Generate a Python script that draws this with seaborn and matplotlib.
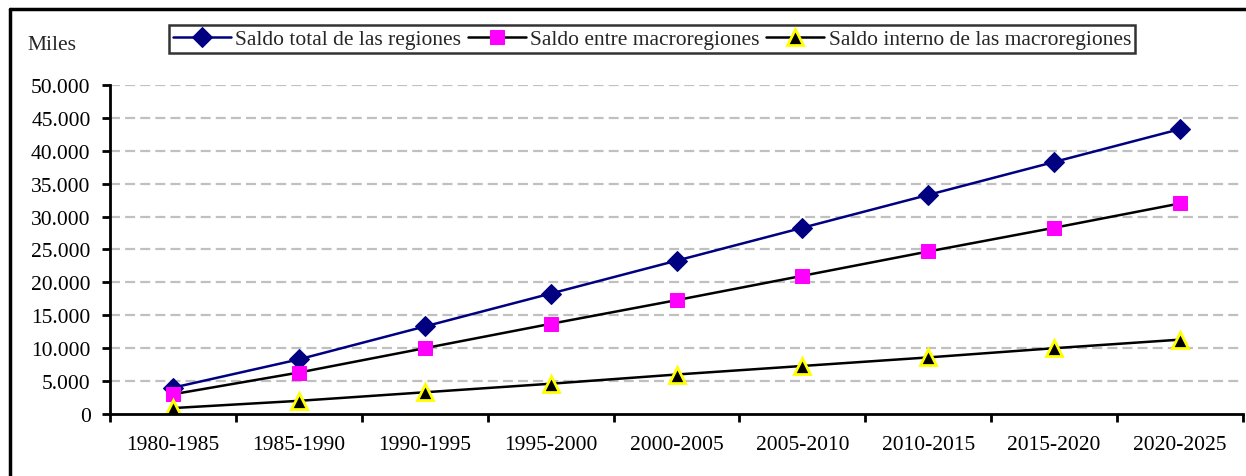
import matplotlib
matplotlib.use("Agg")
import matplotlib.pyplot as plt
import seaborn as sns
import numpy as np
import pandas as pd
from matplotlib.lines import Line2D
from matplotlib.ticker import FuncFormatter, FixedLocator

periods = ["1980-1985", "1985-1990", "1990-1995", "1995-2000", "2000-2005",
           "2005-2010", "2010-2015", "2015-2020", "2020-2025"]
total = [4000, 8300, 13300, 18300, 23300, 28300, 33300, 38300, 43300]
entre = [3000, 6300, 10000, 13700, 17300, 21000, 24700, 28300, 32000]
interno = [900, 2000, 3300, 4600, 6000, 7300, 8600, 10000, 11300]
names = ["Saldo total de las regiones", "Saldo entre macroregiones",
         "Saldo interno de las macroregiones"]
yticks = list(range(0, 50001, 5000))

sns.set_theme(style="white")
plt.rcParams["font.family"] = ["Liberation Serif", "DejaVu Serif"]

fig = plt.figure(figsize=(12.46, 4.77), dpi=100)
ax = fig.add_axes([110/1246, 1 - 415/477, (1243 - 110)/1246, (415 - 86)/477])

df = pd.DataFrame({"x": np.arange(len(periods)), "total": total,
                   "entre": entre, "interno": interno})

styles = [
    ("total", dict(color="#000080", marker="D", markersize=10,
                   markerfacecolor="#000080", markeredgecolor="#000080")),
    ("entre", dict(color="black", marker="s", markersize=9.5,
                   markerfacecolor="#FF00FF", markeredgecolor="#FF00FF")),
    ("interno", dict(color="black", marker="^", markersize=11,
                     markerfacecolor="black", markeredgecolor="#FFFF00",
                     markeredgewidth=2)),
]
for (col, st), name in zip(styles, names):
    sns.lineplot(data=df, x="x", y=col, ax=ax, linewidth=1.8, label=name, **st)

ax.set_xlim(-0.5, len(periods) - 0.5)
ax.set_ylim(0, 50000)
ax.set_yticks(yticks)
ax.yaxis.set_major_formatter(FuncFormatter(lambda v, p: f"{int(v):,}".replace(",", ".")))
ax.set_xticks(np.arange(len(periods)))
ax.set_xticklabels(periods)
ax.xaxis.set_minor_locator(FixedLocator(np.arange(-0.5, len(periods), 1.0)))
ax.tick_params(axis="x", which="major", length=0, pad=15, labelsize=15.5, colors="black")
ax.tick_params(axis="x", which="minor", length=5.5, width=2, direction="out",
               color="black", bottom=True)
ax.tick_params(axis="y", which="major", length=6, width=2, direction="out",
               pad=8, labelsize=15.5, colors="black", left=True)
ax.set_xlabel("")
ax.set_ylabel("")

for y in yticks[1:]:
    ax.axhline(y, color="#c0c0c0", linewidth=1.6, linestyle=(0, (4.5, 2.3)), zorder=0)

for s in ["top", "right"]:
    ax.spines[s].set_visible(False)
for s in ["left", "bottom"]:
    ax.spines[s].set_color("black")
    ax.spines[s].set_linewidth(2)

leg = ax.legend(loc="center", bbox_to_anchor=((173 + 1131) / 2 / 1246, 1 - 40 / 477),
                bbox_transform=fig.transFigure, ncol=3, frameon=True, fancybox=False,
                fontsize=15.5, handlelength=2.7, handletextpad=0.2, columnspacing=0.3,
                borderpad=0.2, borderaxespad=0)
leg.get_frame().set_edgecolor("black")
leg.get_frame().set_linewidth(1.8)

fig.text(27/1246, 1 - 45/477, "Miles", fontsize=15.5, va="center", ha="left")

fig.add_artist(Line2D([10/1246, 1], [1 - 10/477, 1 - 10/477], color="black",
                      linewidth=2.5, transform=fig.transFigure))
fig.add_artist(Line2D([10/1246, 10/1246], [0, 1 - 10/477], color="black",
                      linewidth=2.5, transform=fig.transFigure))

fig.savefig("out.png", dpi=100)
